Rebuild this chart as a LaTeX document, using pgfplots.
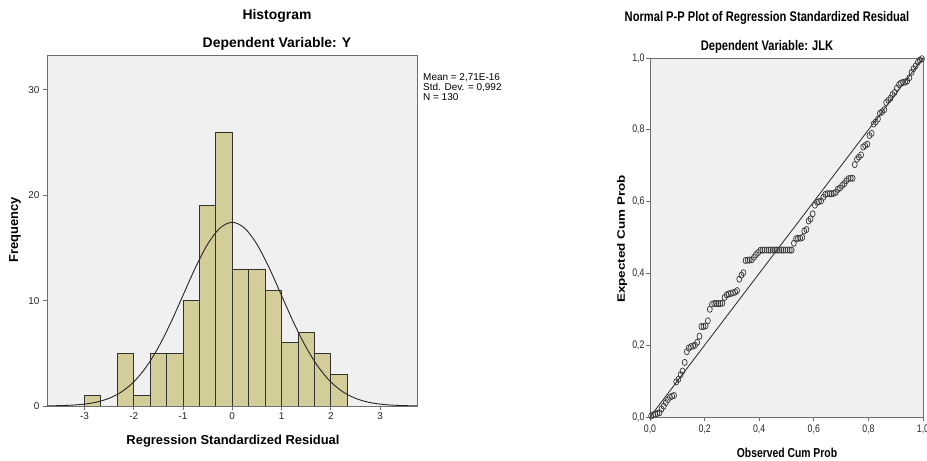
\documentclass[border=0pt]{standalone}
\usepackage{pgfplots}
\pgfplotsset{compat=1.18}
\usepackage{fontspec}
\setmainfont{Liberation Sans}
\usepackage{graphicx}

\definecolor{plotbg}{RGB}{240,240,240}
\definecolor{barfill}{RGB}{211,206,153}
\definecolor{bardraw}{RGB}{50,50,50}
\definecolor{framegray}{RGB}{110,110,110}
\definecolor{markgray}{RGB}{55,55,55}

\newcommand{\sq}[1]{\scalebox{0.8}[1]{#1}}

\begin{document}
\begin{tikzpicture}[x=1bp,y=1bp]
\path[use as bounding box] (0,0) rectangle (927,461);

% ---------- histogram ----------
\begin{axis}[
  at={(47bp,55bp)}, anchor=south west,
  scale only axis, width=370bp, height=351bp,
  axis background/.style={fill=plotbg},
  axis line style={framegray, line width=0.9pt},
  xmin=-3.76, xmax=3.75, ymin=0, ymax=33.3,
  xtick={-3,-2,-1,0,1,2,3},
  xticklabels={-3,-2,-1,0,1,2,3},
  ytick={0,10,20,30},
  yticklabels={0,10,20,30},
  tick align=outside, tick pos=left,
  major tick length=4bp,
  tick style={framegray, line width=0.7pt},
  tick label style={font=\fontsize{10}{12}\selectfont, text=black!85},
  xticklabel style={yshift=1bp},
]
\addplot[ybar interval, fill=barfill, draw=bardraw, line width=0.8pt] coordinates {
(-3,1) (-2.6667,0) (-2.3333,5) (-2,1) (-1.6667,5) (-1.3333,5) (-1,10)
(-0.6667,19) (-0.3333,26) (0,13) (0.3333,13) (0.6667,11) (1,6)
(1.3333,7) (1.6667,5) (2,3) (2.3333,3)
};
\addplot[smooth, black!85, line width=0.9pt] coordinates {
(-3.75,0.014) (-3.5,0.035) (-3.25,0.081) (-3,0.180) (-2.75,0.374)
(-2.5,0.728) (-2.25,1.33) (-2,2.28) (-1.75,3.68) (-1.5,5.56)
(-1.25,7.88) (-1,10.49) (-0.75,13.10) (-0.5,15.35) (-0.25,16.88)
(0,17.43)
(0.25,16.88) (0.5,15.35) (0.75,13.10) (1,10.49) (1.25,7.88)
(1.5,5.56) (1.75,3.68) (2,2.28) (2.25,1.33) (2.5,0.728)
(2.75,0.374) (3,0.180) (3.25,0.081) (3.5,0.035) (3.75,0.014)
};
\end{axis}

\node[font=\bfseries\fontsize{14}{16}\selectfont] at (277,445) {Histogram};
\node[font=\bfseries\fontsize{14}{16}\selectfont] at (277,417) {Dependent Variable: Y};
\node[font=\bfseries\fontsize{13}{15}\selectfont] at (233,20) {Regression Standardized Residual};
\node[font=\bfseries\fontsize{13}{15}\selectfont, rotate=90] at (15,231) {Frequency};
\node[font=\fontsize{10}{10}\selectfont, anchor=north west, align=left, inner sep=0pt]
  at (423,388) {Mean = 2,71E-16\\Std. Dev. = 0,992\\N = 130};

% ---------- P-P plot ----------
\begin{axis}[
  at={(650bp,44bp)}, anchor=south west,
  scale only axis, width=273bp, height=359bp,
  axis background/.style={fill=plotbg},
  axis line style={framegray, line width=0.9pt},
  xmin=0, xmax=1, ymin=0, ymax=1,
  xtick={0,0.2,0.4,0.6,0.8,1},
  ytick={0,0.2,0.4,0.6,0.8,1},
  xticklabels={\sq{0,0},\sq{0,2},\sq{0,4},\sq{0,6},\sq{0,8},\sq{1,0}},
  yticklabels={\sq{0,0},\sq{0,2},\sq{0,4},\sq{0,6},\sq{0,8},\sq{1,0}},
  tick align=outside, tick pos=left,
  major tick length=4bp,
  tick style={framegray, line width=0.7pt},
  tick label style={font=\fontsize{11}{12}\selectfont, text=black!85},
  yticklabel style={xshift=2bp},
]
\addplot[black!85, line width=0.8pt] coordinates {(0,0) (1,1)};
\addplot[only marks, mark=o, mark size=3.1pt,
  mark options={draw=markgray, line width=0.7pt, xscale=0.8}] table {
0.004 0.003
0.012 0.006
0.019 0.008
0.027 0.010
0.035 0.012
0.042 0.022
0.050 0.030
0.058 0.040
0.065 0.048
0.073 0.055
0.081 0.058
0.088 0.060
0.096 0.098
0.104 0.105
0.112 0.118
0.119 0.128
0.127 0.152
0.135 0.182
0.142 0.192
0.150 0.196
0.158 0.198
0.165 0.200
0.173 0.208
0.181 0.225
0.188 0.252
0.196 0.252
0.204 0.254
0.212 0.268
0.219 0.300
0.227 0.314
0.235 0.316
0.242 0.316
0.250 0.316
0.258 0.316
0.265 0.317
0.273 0.333
0.281 0.340
0.288 0.343
0.296 0.344
0.304 0.346
0.312 0.348
0.319 0.352
0.327 0.384
0.335 0.395
0.342 0.402
0.350 0.436
0.358 0.437
0.365 0.437
0.373 0.438
0.381 0.445
0.388 0.452
0.396 0.458
0.404 0.464
0.412 0.465
0.419 0.465
0.427 0.465
0.435 0.465
0.442 0.465
0.450 0.465
0.458 0.465
0.465 0.465
0.473 0.465
0.481 0.465
0.488 0.465
0.496 0.465
0.504 0.465
0.512 0.465
0.519 0.465
0.527 0.484
0.535 0.496
0.542 0.498
0.550 0.498
0.558 0.500
0.565 0.518
0.573 0.522
0.581 0.546
0.588 0.552
0.596 0.566
0.604 0.590
0.612 0.598
0.619 0.600
0.627 0.602
0.635 0.612
0.642 0.620
0.650 0.622
0.658 0.622
0.665 0.622
0.673 0.623
0.681 0.626
0.688 0.634
0.696 0.638
0.704 0.645
0.712 0.650
0.719 0.658
0.727 0.664
0.735 0.665
0.742 0.665
0.750 0.703
0.758 0.718
0.765 0.724
0.773 0.730
0.781 0.752
0.788 0.756
0.796 0.760
0.804 0.784
0.812 0.790
0.819 0.816
0.827 0.822
0.835 0.830
0.842 0.846
0.850 0.850
0.858 0.856
0.865 0.876
0.873 0.882
0.881 0.888
0.888 0.898
0.896 0.904
0.904 0.916
0.912 0.926
0.919 0.930
0.927 0.932
0.935 0.933
0.942 0.936
0.950 0.945
0.958 0.960
0.965 0.970
0.973 0.978
0.981 0.988
0.988 0.994
0.996 0.998
};
\end{axis}

\node[font=\bfseries\fontsize{14}{16}\selectfont] at (767,443) {\sq{Normal P-P Plot of Regression Standardized Residual}};
\node[font=\bfseries\fontsize{14}{16}\selectfont] at (767,414) {\sq{Dependent Variable: JLK}};
\node[font=\bfseries\fontsize{13}{15}\selectfont] at (787,8) {\sq{Observed Cum Prob}};
\node[font=\bfseries\fontsize{13.5}{15}\selectfont, rotate=90] at (622,222) {\scalebox{1}[0.8]{Expected Cum Prob}};
\end{tikzpicture}
\end{document}
